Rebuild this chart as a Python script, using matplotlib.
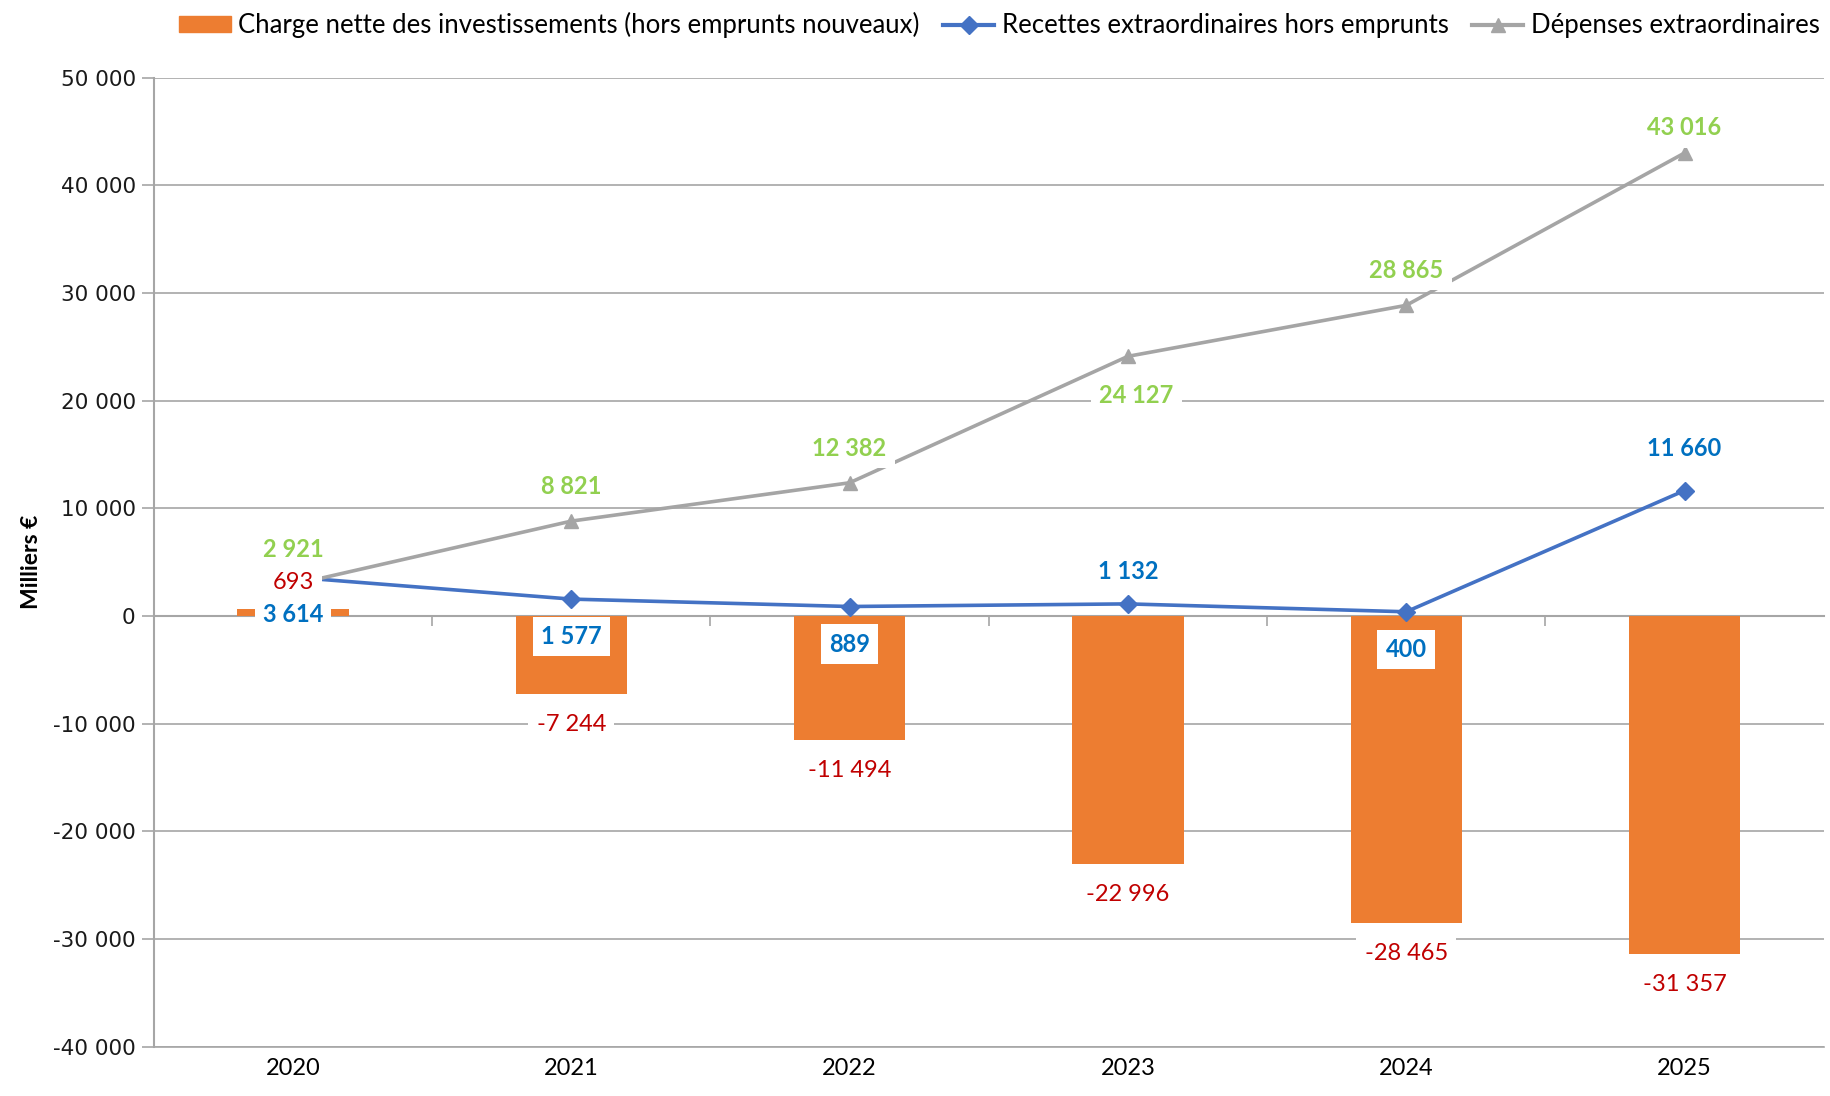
"""Charge nette des investissements vs recettes / dépenses extraordinaires."""

import matplotlib
matplotlib.use("Agg")
import matplotlib.pyplot as plt
from matplotlib.patches import Patch
from matplotlib.lines import Line2D
from matplotlib.ticker import FuncFormatter, FixedLocator

# ── data ──
years = ["2020", "2021", "2022", "2023", "2024", "2025"]
charge_nette = [693, -7244, -11494, -22996, -28465, -31357]
recettes = [3614, 1577, 889, 1132, 400, 11660]
depenses = [2921, 8821, 12382, 24127, 28865, 43016]

# label offsets (points) relative to each mark
off_charge = [(0, 19), (0, -22), (0, -22), (0, -22), (0, -22), (0, -22)]
off_recettes = [(0, -27), (0, -27), (0, -27), (0, 23), (0, -27), (0, 30)]
off_depenses = [(0, 25), (0, 25), (0, 25), (6, -28), (0, 25), (0, 18)]

ORANGE = "#ED7D31"
BLUE_LINE = "#4472C4"
GRAY_LINE = "#A5A5A5"
GREEN_TXT = "#92D050"
BLUE_TXT = "#0070C0"
RED_TXT = "#C00000"
GRID = "#A6A6A6"

plt.rcParams["font.family"] = ["Lato", "DejaVu Sans"]


def fmt(v, _=None):
    return f"{v:,.0f}".replace(",", " ")


fig = plt.figure(figsize=(18.31, 10.96), dpi=100)
ax = fig.add_axes([0.084, 0.045, 0.912, 0.884])

x = list(range(len(years)))
ax.bar(x, charge_nette, width=0.4, color=ORANGE, zorder=2)
ax.plot(x, recettes, color=BLUE_LINE, lw=2.6, marker="D", markersize=9, zorder=3)
ax.plot(x, depenses, color=GRAY_LINE, lw=2.6, marker="^", markersize=10, zorder=3)

ax.set_xlim(-0.5, len(years) - 0.5)
ax.set_ylim(-40000, 50000)
ax.set_yticks(range(-40000, 50001, 10000))
ax.yaxis.set_major_formatter(FuncFormatter(fmt))
ax.tick_params(axis="y", direction="out", length=9, width=1.2, color=GRID,
               labelsize=15.5, labelcolor="#1a1a1a", pad=4,
               labelfontfamily="DejaVu Sans")
ax.grid(axis="y", color=GRID, lw=1.2, zorder=0)
ax.set_axisbelow(True)

ax.set_xticks(x)
ax.set_xticklabels(years)
ax.tick_params(axis="x", length=0, labelsize=17, pad=8)

for side in ["top", "right"]:
    ax.spines[side].set_visible(False)
ax.spines["left"].set_color(GRID)
ax.spines["left"].set_linewidth(1.5)
ax.spines["bottom"].set_color(GRID)
ax.spines["bottom"].set_linewidth(1.2)

# horizontal axis line at zero with category tick marks
y0, y1 = ax.get_ylim()
sec = ax.secondary_xaxis((0 - y0) / (y1 - y0))
sec.xaxis.set_major_locator(FixedLocator([i + 0.5 for i in x[:-1]]))
sec.tick_params(direction="out", length=7, width=1.2, color=GRID, labelbottom=False)
sec.spines["bottom"].set_color(GRID)
sec.spines["bottom"].set_linewidth(1.5)

ax.set_ylabel("Milliers €", fontsize=16.5, fontweight="bold", labelpad=8)

box = dict(boxstyle="square,pad=0.35", fc="white", ec="none")


def label(xi, v, off, color, bold):
    ax.annotate(fmt(v), (xi, v), xytext=off, textcoords="offset points",
                ha="center", va="center", fontsize=17, color=color,
                fontweight="bold" if bold else "normal", bbox=box, zorder=5)


for i in x:
    label(i, charge_nette[i], off_charge[i], RED_TXT, False)
    label(i, recettes[i], off_recettes[i], BLUE_TXT, True)
    label(i, depenses[i], off_depenses[i], GREEN_TXT, True)

handles = [
    Patch(color=ORANGE),
    Line2D([], [], color=BLUE_LINE, lw=3, marker="D", markersize=9),
    Line2D([], [], color=GRAY_LINE, lw=3, marker="^", markersize=10),
]
names = [
    "Charge nette des investissements (hors emprunts nouveaux)",
    "Recettes extraordinaires hors emprunts",
    "Dépenses extraordinaires",
]
fig.legend(handles, names, loc="center", bbox_to_anchor=(0.546, 0.977),
           ncol=3, frameon=False, fontsize=18.5, handlelength=2.0,
           handleheight=0.6, handletextpad=0.3, columnspacing=0.9)

fig.savefig("out.png", dpi=100)
